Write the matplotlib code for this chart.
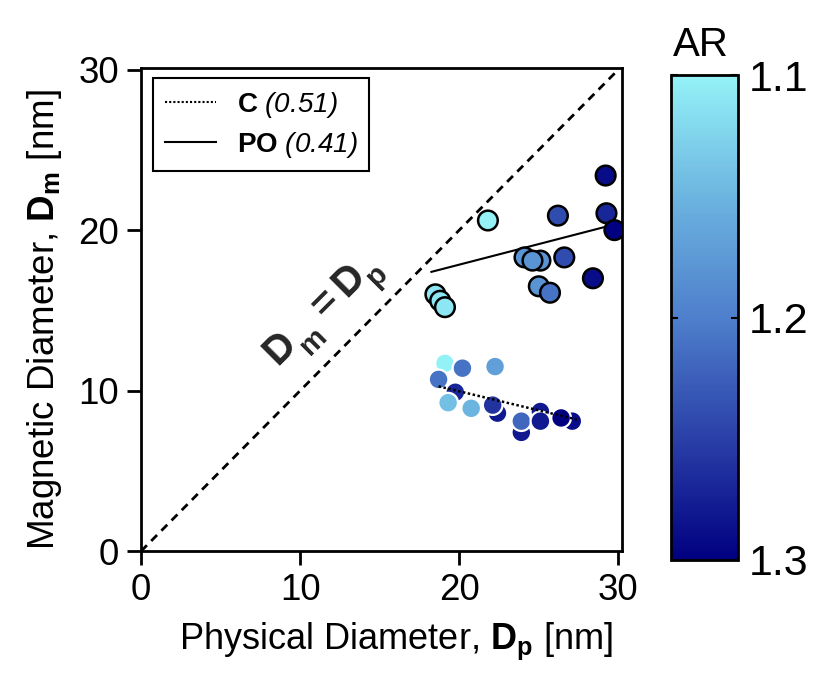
import matplotlib
matplotlib.use("Agg")
import matplotlib.pyplot as plt
from matplotlib.colors import LinearSegmentedColormap
from matplotlib.lines import Line2D
import numpy as np

plt.rcParams['font.family'] = ['Liberation Sans', 'DejaVu Sans']
plt.rcParams['mathtext.fontset'] = 'custom'
plt.rcParams['mathtext.rm'] = 'Liberation Sans'
plt.rcParams['mathtext.bf'] = 'Liberation Sans:bold'
plt.rcParams['mathtext.sf'] = 'Liberation Sans:italic'

# PO particles: physical diameter, magnetic diameter, aspect ratio
po_dp = [21.8, 26.2, 29.2, 29.25, 29.75, 28.4, 26.6, 24.1, 25.1, 24.6, 25.0, 25.7, 18.5, 18.8, 19.1]
po_dm = [20.6, 20.9, 23.4, 21.05, 20.0, 17.0, 18.3, 18.3, 18.1, 18.1, 16.5, 16.1, 16.0, 15.6, 15.2]
po_ar = [1.10, 1.24, 1.29, 1.27, 1.30, 1.29, 1.24, 1.18, 1.18, 1.18, 1.18, 1.21, 1.11, 1.11, 1.11]

# C particles (back ones first)
c_dp = [19.75, 22.4, 23.9, 25.1, 27.1, 19.1, 20.2, 22.25, 18.7, 19.3, 20.75, 22.1, 23.9, 25.1, 26.4]
c_dm = [9.9, 8.6, 7.4, 8.7, 8.1, 11.7, 11.4, 11.5, 10.7, 9.25, 8.9, 9.1, 8.1, 8.1, 8.3]
c_ar = [1.27, 1.28, 1.28, 1.28, 1.29, 1.10, 1.21, 1.17, 1.21, 1.14, 1.15, 1.26, 1.22, 1.28, 1.30]

# linear fits
c_fit_x = [18.7, 27.4]
c_fit_y = [10.27, 8.2]
po_fit_x = [18.25, 29.75]
po_fit_y = [17.4, 20.35]

cmap = LinearSegmentedColormap.from_list(
    'ar', ['#94F2F7', '#6CB4E0', '#4E7FCC', '#2A40A8', '#000080'])

fig = plt.figure(figsize=(8.2, 6.73), dpi=100)
ax = fig.add_axes([0.172, 0.181, 0.586, 0.718])

ax.plot([0, 30], [0, 30], 'k--', lw=2, dashes=(3, 2.2), zorder=1)
ax.plot(po_fit_x, po_fit_y, 'k-', lw=1.5, zorder=2)

ax.scatter(c_dp, c_dm, c=c_ar, cmap=cmap, vmin=1.1, vmax=1.3, s=200,
           edgecolors='white', linewidths=1.6, zorder=3)
ax.plot(c_fit_x, c_fit_y, color='k', lw=1.8, ls=(0, (1, 1)), zorder=4)
sc = ax.scatter(po_dp, po_dm, c=po_ar, cmap=cmap, vmin=1.1, vmax=1.3, s=200,
                edgecolors='black', linewidths=1.8, zorder=5)

# "Dm = Dp" written along the diagonal, piece by piece so the
# subscripts can sit low and large
r2 = np.sqrt(2)
pieces = [('D', 0, 0, 29), ('m', 29, 19, 21), ('=', 64, 0, 29),
          ('D', 97, 1, 29), ('p', 120, 18, 21)]
for txt, u, v, fs in pieces:
    du = u * 0.72 / r2
    dv = v * 0.72 / r2
    ax.annotate(txt, xy=(8.69, 12.67), xytext=(du + dv, du - dv),
                textcoords='offset points', fontsize=fs, fontweight='bold',
                rotation=45, ha='center', va='center', color='#262626')

ax.set_xlim(0, 30.2)
ax.set_ylim(0, 30.1)
ax.set_xticks([0, 10, 20, 30])
ax.set_yticks([0, 10, 20, 30])
for s in ax.spines.values():
    s.set_linewidth(2)
ax.tick_params(labelsize=26.5, width=2, length=10, direction='out', pad=6)
ax.set_xlabel(r'Physical Diameter, $\mathbf{D_p}$ [nm]', fontsize=26, labelpad=9)
ax.set_ylabel(r'Magnetic Diameter, $\mathbf{D_m}$ [nm]', fontsize=26.5, labelpad=10)
ax.xaxis.label.set_x(0.531)
ax.yaxis.label.set_y(0.48)

handles = [Line2D([], [], color='k', lw=1.5, ls=(0, (1, 1))),
           Line2D([], [], color='k', lw=1.5)]
labels = [r'$\mathbf{C}$ $\mathsf{(0.51)}$', r'$\mathbf{PO}$ $\mathsf{(0.41)}$']
leg = ax.legend(handles, labels, loc='upper left', bbox_to_anchor=(0.025, 0.979),
                borderaxespad=0, fontsize=20, frameon=True, fancybox=False,
                edgecolor='black', framealpha=1, handlelength=1.85,
                handletextpad=0.75, borderpad=0.42, labelspacing=0.35)
leg.get_frame().set_linewidth(1.5)

cax = fig.add_axes([0.818, 0.168, 0.082, 0.72])
cb = fig.colorbar(sc, cax=cax, ticks=[1.1, 1.2, 1.3])
cax.invert_yaxis()
cb.outline.set_linewidth(2)
cax.tick_params(labelsize=31, direction='in', width=1.5, length=5,
                left=True, right=True, pad=8)
cax.set_title('AR', fontsize=29, pad=14, x=0.45)

fig.savefig('out.png', dpi=100)
